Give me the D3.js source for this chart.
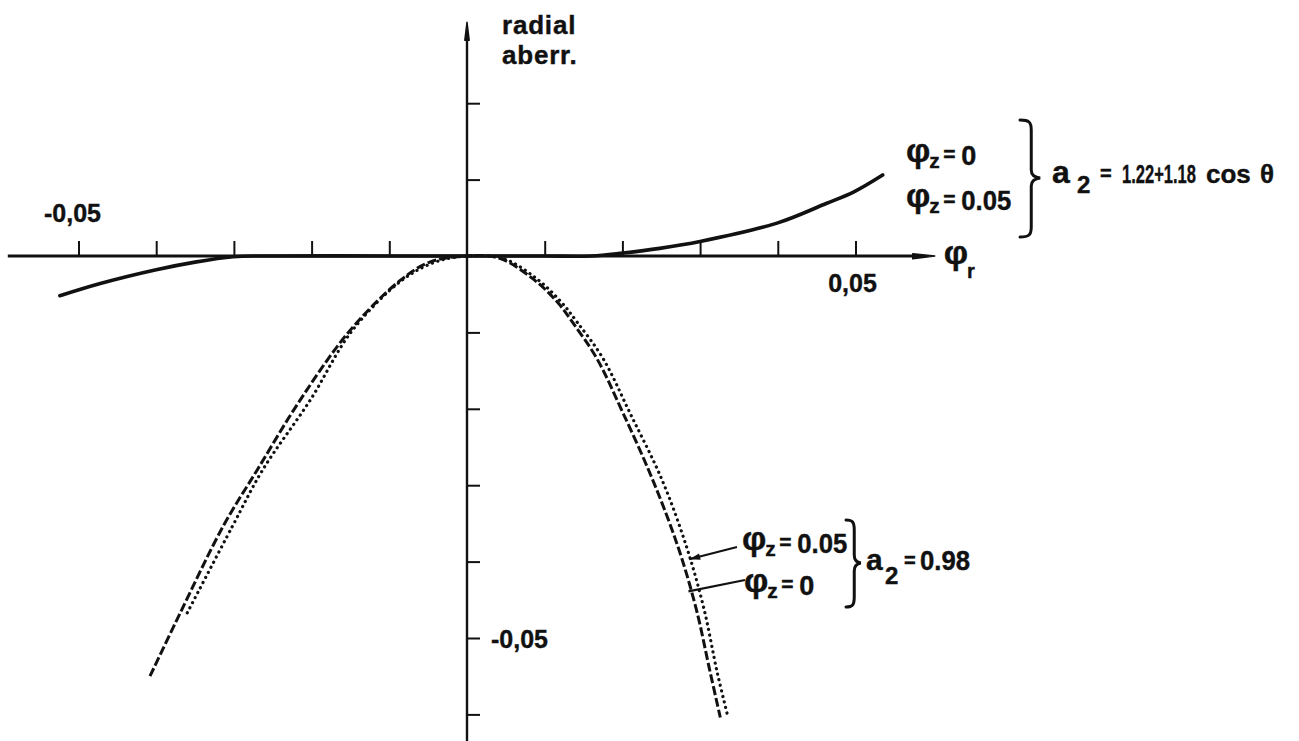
<!DOCTYPE html>
<html>
<head>
<meta charset="utf-8">
<script src="https://cdn.jsdelivr.net/npm/d3@7"></script>
<style>
  html, body { margin: 0; padding: 0; background: #fff; }
  svg { display: block; }
  text { font-family: "Liberation Sans", Arial, sans-serif; font-weight: bold; fill: #111; stroke: #111; stroke-width: 0.4; }
</style>
</head>
<body>
<svg id="chart" width="1299" height="741"></svg>
<script>
// ---- axis ticks -------------------------------------------------------
const xTickValues = [-0.05, -0.04, -0.03, -0.02, -0.01, 0.01, 0.02, 0.03, 0.04, 0.05];
const yTickValues = [0.02, 0.01, -0.01, -0.02, -0.03, -0.04, -0.05, -0.06];
const xTickLabels = ["-0,05", "0,05"];       // at phi_r = -0.05 and +0.05
const yTickLabels = ["-0,05"];               // at aberration = -0.05

// ---- a2 = 1.22 + 1.18 cos(theta): phi_z = 0 and phi_z = 0.05 coincide --
const phiUpper   = [-0.0524, -0.0472, -0.0400, -0.0350, -0.0301, -0.0260, -0.0100, 0, 0.0100, 0.0160, 0.0201, 0.0248, 0.0300, 0.0399, 0.0463, 0.0498, 0.0535];
const aberrUpper = [-0.0052, -0.0036, -0.0018, -0.0008, -0.0001, 0, 0, 0, 0, 0, 0.0004, 0.0010, 0.0019, 0.0043, 0.0069, 0.0084, 0.0106];

// ---- a2 = 0.98, phi_z = 0 (dashed) -------------------------------------
const phiZ0   = [-0.0408, -0.0369, -0.0314, -0.0270, -0.0215, -0.0151, -0.0086, -0.0048, 0, 0.0042, 0.0085, 0.0116, 0.0136, 0.0167, 0.0201, 0.0239, 0.0272, 0.0295, 0.0313, 0.0326];
const aberrZ0 = [-0.0550, -0.0467, -0.0354, -0.0280, -0.0189, -0.0098, -0.0032, -0.0008, 0, -0.0003, -0.0030, -0.0060, -0.0087, -0.0134, -0.0206, -0.0293, -0.0382, -0.0462, -0.0545, -0.0604];

// ---- a2 = 0.98, phi_z = 0.05 (dotted) ----------------------------------
const phiZ05   = [-0.0360, -0.0302, -0.0263, -0.0202, -0.0148, -0.0084, -0.0041, 0, 0.0046, 0.0090, 0.0121, 0.0142, 0.0175, 0.0210, 0.0251, 0.0283, 0.0305, 0.0322, 0.0336];
const aberrZ05 = [-0.0467, -0.0354, -0.0280, -0.0189, -0.0098, -0.0032, -0.0008, 0, -0.0003, -0.0030, -0.0060, -0.0087, -0.0134, -0.0206, -0.0293, -0.0382, -0.0462, -0.0545, -0.0604];

// ---- scales ------------------------------------------------------------
const svg = d3.select("#chart");
const x = d3.scaleLinear().domain([-0.06, 0.06]).range([467 - 6 * 77.7, 467 + 6 * 77.7]);
const y = d3.scaleLinear().domain([0.03, -0.06]).range([256 - 3 * 76.4, 256 + 6 * 76.4]);
const X0 = x(0), Y0 = y(0);
const ink = "#111";

const zip = (a, b) => a.map((v, i) => [v, b[i]]);
const line = d3.line().x(d => x(d[0])).y(d => y(d[1])).curve(d3.curveCatmullRom.alpha(0.5));

// ---- axes --------------------------------------------------------------
const xEnd = x(0.0602);
svg.append("line").attr("x1", x(-0.0591)).attr("x2", xEnd - 12)
  .attr("y1", Y0).attr("y2", Y0).attr("stroke", ink).attr("stroke-width", 3);
svg.append("path")
  .attr("d", `M${xEnd - 22},${Y0 - 2.2} L${xEnd},${Y0} L${xEnd - 22},${Y0 + 2.8} Z`)
  .attr("fill", ink).attr("stroke", ink).attr("stroke-width", 1.5).attr("stroke-linejoin", "round");

const yTop = y(0.0306);
svg.append("line").attr("x1", X0).attr("x2", X0).attr("y1", yTop + 10).attr("y2", 741)
  .attr("stroke", ink).attr("stroke-width", 2.4);
svg.append("path")
  .attr("d", `M${X0 - 2.2},${yTop + 18} L${X0},${yTop} L${X0 + 2.2},${yTop + 18} Z`)
  .attr("fill", ink).attr("stroke", ink).attr("stroke-width", 1.5).attr("stroke-linejoin", "round");

const gx = svg.append("g").attr("transform", `translate(0,${Y0 - 1})`)
  .call(d3.axisTop(x).tickValues(xTickValues).tickSize(14).tickFormat(""));
gx.select(".domain").remove();
gx.selectAll(".tick line").attr("stroke", ink).attr("stroke-width", 2);

const gy = svg.append("g").attr("transform", `translate(${X0},0)`)
  .call(d3.axisRight(y).tickValues(yTickValues).tickSize(13).tickFormat(""));
gy.select(".domain").remove();
gy.selectAll(".tick line").attr("stroke", ink).attr("stroke-width", 2);

// tick labels
svg.append("text").attr("x", x(-0.05) - 6).attr("y", Y0 - 34)
  .attr("text-anchor", "middle").attr("font-size", 25).text(xTickLabels[0]);
svg.append("text").attr("x", x(0.05) - 3).attr("y", Y0 + 36)
  .attr("text-anchor", "middle").attr("font-size", 25).text(xTickLabels[1]);
svg.append("text").attr("x", X0 + 24).attr("y", y(-0.05) + 10)
  .attr("font-size", 25).text(yTickLabels[0]);

// axis titles
svg.append("text").attr("x", X0 + 35).attr("y", 34).attr("font-size", 26).attr("letter-spacing", 0.8).text("radial");
svg.append("text").attr("x", X0 + 35).attr("y", 64).attr("font-size", 26).attr("letter-spacing", 0.8).text("aberr.");
const phr = svg.append("text").attr("x", xEnd + 9).attr("y", Y0 + 8).attr("font-size", 34).text("φ");
svg.append("text").attr("x", xEnd + 9 + phr.node().getComputedTextLength() - 1).attr("y", Y0 + 22)
  .attr("font-size", 20).text("r");

// ---- curves ------------------------------------------------------------
svg.append("path").datum(zip(phiUpper, aberrUpper))
  .attr("d", line).attr("fill", "none").attr("stroke", ink)
  .attr("stroke-width", 3.6).attr("stroke-linecap", "round");

svg.append("path").datum(zip(phiZ0, aberrZ0))
  .attr("d", line).attr("fill", "none").attr("stroke", ink)
  .attr("stroke-width", 3).attr("stroke-dasharray", "9 3").attr("stroke-linecap", "butt");

svg.append("path").datum(zip(phiZ05, aberrZ05))
  .attr("d", line).attr("fill", "none").attr("stroke", ink)
  .attr("stroke-width", 3.2).attr("stroke-dasharray", "0.1 5.6").attr("stroke-linecap", "round");

// ---- annotations -------------------------------------------------------
function brace(xl, yt, yb, ytip, w) {
  const xv = xl + w * 0.75, xt = xl + w * 1.35;
  return `M${xl},${yt} C${xl + w * 0.6},${yt} ${xv},${yt + 2} ${xv},${yt + 10}` +
         ` L${xv},${ytip - 8} Q${xv},${ytip - 1} ${xt},${ytip}` +
         ` Q${xv},${ytip + 1} ${xv},${ytip + 8}` +
         ` L${xv},${yb - 10} C${xv},${yb - 2} ${xl + w * 0.6},${yb} ${xl},${yb}`;
}

// text squeezed horizontally to a given width
function condensed(xp, yb, size, str, width) {
  const t = svg.append("text").attr("font-size", size).text(str);
  const w = t.node().getComputedTextLength();
  t.attr("transform", `translate(${xp},${yb}) scale(${width / w},1)`);
  return t;
}

// "φ_z = value" label, parts placed side by side
function phiZLabel(xp, yb, value, valueLen) {
  const p = svg.append("text").attr("x", xp).attr("y", yb - 3).attr("font-size", 34).text("φ");
  const pw = p.node().getComputedTextLength();
  svg.append("text").attr("x", xp + pw - 1).attr("y", yb + 3).attr("font-size", 21).text("z");
  svg.append("text").attr("x", xp + pw + 13).attr("y", yb - 4).attr("font-size", 21).text("=");
  if (valueLen) condensed(xp + pw + 31, yb, 27, value, valueLen);
  else svg.append("text").attr("x", xp + pw + 31).attr("y", yb).attr("font-size", 27).text(value);
}

// upper group: a2 = 1.22 + 1.18 cos θ
phiZLabel(906, 165, "0", null);
phiZLabel(906, 210, "0.05", 50);
svg.append("path").attr("d", brace(1020, 120, 237, 178, 15))
  .attr("fill", "none").attr("stroke", ink).attr("stroke-width", 3).attr("stroke-linecap", "round");
svg.append("text").attr("x", 1052).attr("y", 183).attr("font-size", 32).text("a");
svg.append("text").attr("x", 1077).attr("y", 193).attr("font-size", 24).text("2");
svg.append("text").attr("x", 1100).attr("y", 180).attr("font-size", 20).text("=");
condensed(1122, 183, 26, "1.22+1.18", 74);
svg.append("text").attr("x", 1206).attr("y", 183).attr("font-size", 26).text("cos");
svg.append("text").attr("x", 1260).attr("y", 183).attr("font-size", 26).text("θ");

// lower group: a2 = 0.98
function leader(phi, ab, x2, y2, head) {
  const x1 = x(phi), y1 = y(ab);
  svg.append("line").attr("x1", x1).attr("y1", y1).attr("x2", x2).attr("y2", y2)
    .attr("stroke", ink).attr("stroke-width", 2.2);
  if (head) {
    const a = Math.atan2(y2 - y1, x2 - x1), L = 11, W = 3.2;
    const bx = x1 + L * Math.cos(a), by = y1 + L * Math.sin(a);
    const nx = -Math.sin(a) * W, ny = Math.cos(a) * W;
    svg.append("path").attr("d", `M${x1},${y1} L${bx + nx},${by + ny} L${bx - nx},${by - ny} Z`).attr("fill", ink);
  }
}
leader(0.0286, -0.0397, 737, 547, true);
leader(0.0285, -0.0439, 745, 580, false);

phiZLabel(742, 553, "0.05", 50);
phiZLabel(744, 595, "0", null);
svg.append("path").attr("d", brace(846, 520, 607, 563, 11))
  .attr("fill", "none").attr("stroke", ink).attr("stroke-width", 3).attr("stroke-linecap", "round");
svg.append("text").attr("x", 866).attr("y", 570).attr("font-size", 30).text("a");
svg.append("text").attr("x", 885).attr("y", 584).attr("font-size", 24).text("2");
svg.append("text").attr("x", 904).attr("y", 567).attr("font-size", 20).text("=");
condensed(920, 570, 27, "0.98", 50);
</script>
</body>
</html>
